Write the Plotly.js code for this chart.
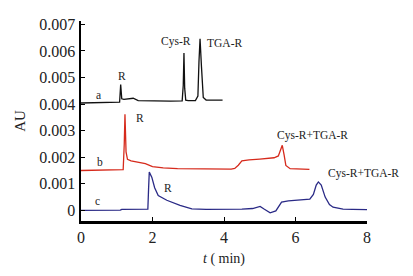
<!DOCTYPE html>
<html>
<head>
<meta charset="utf-8">
<script src="https://cdn.plot.ly/plotly-3.0.1.min.js"></script>
<style>html,body{margin:0;padding:0;background:#fff;}#chart{width:413px;height:276px;}</style>
</head>
<body>
<div id="chart"></div>
<script>
// Trace a (black), time in min, absorbance in 1e-3 AU
var timeA = [0, 0.5, 1.0, 1.08, 1.11, 1.14, 1.2, 1.35, 1.46, 1.6, 2.0, 2.5, 2.83, 2.86, 2.88, 2.9, 2.93, 3.0, 3.2, 3.27, 3.3, 3.33, 3.37, 3.42, 3.5, 3.96];
var auA   = [4.04, 4.05, 4.06, 4.07, 4.74, 4.2, 4.18, 4.19, 4.22, 4.13, 4.11, 4.11, 4.12, 4.7, 5.92, 4.6, 4.15, 4.13, 4.13, 4.3, 5.6, 6.46, 5.4, 4.25, 4.15, 4.15];
// Trace b (red)
var timeB = [0, 0.5, 1.0, 1.18, 1.21, 1.23, 1.26, 1.3, 1.4, 1.6, 1.8, 2.0, 2.3, 2.7, 3.5, 4.2, 4.3, 4.4, 4.5, 4.7, 5.0, 5.4, 5.52, 5.58, 5.63, 5.68, 5.73, 5.85, 6.1, 6.39];
var auB   = [1.5, 1.51, 1.52, 1.53, 2.5, 3.62, 2.2, 1.92, 1.86, 1.82, 1.76, 1.65, 1.6, 1.57, 1.55, 1.55, 1.58, 1.7, 1.86, 1.9, 1.93, 1.98, 2.05, 2.3, 2.45, 2.1, 1.69, 1.57, 1.55, 1.54];
// Trace c (blue)
var timeC = [0, 0.5, 1.0, 1.1, 1.14, 1.5, 1.87, 1.89, 1.91, 1.98, 2.06, 2.16, 2.4, 2.77, 3.1, 3.5, 4.0, 4.5, 4.8, 4.92, 5.01, 5.12, 5.29, 5.45, 5.61, 5.8, 6.1, 6.4, 6.5, 6.58, 6.64, 6.72, 6.83, 6.95, 7.05, 7.33, 7.6, 8.0];
var auC   = [0, 0, 0.01, 0.01, 0.04, 0.04, 0.05, 0.8, 1.44, 1.25, 0.85, 0.56, 0.38, 0.19, 0.06, 0.04, 0.04, 0.05, 0.07, 0.12, 0.15, 0.05, -0.09, -0.02, 0.31, 0.36, 0.38, 0.42, 0.6, 0.95, 1.07, 0.95, 0.5, 0.22, 0.12, 0.05, 0.04, 0.03];

var yTickVals = [0, 0.001, 0.002, 0.003, 0.004, 0.005, 0.006, 0.007];
var yTickText = ["0", "0.001", "0.002", "0.003", "0.004", "0.005", "0.006", "0.007"];
var xTickVals = [0, 2, 4, 6, 8];
var xTickText = ["0", "2", "4", "6", "8"];

// labels: [text, x (min), y (1e-3 AU)]
var labelText = ["a", "R", "Cys-R", "TGA-R", "b", "R", "Cys-R+TGA-R", "c", "R", "Cys-R+TGA-R"];
var labelX    = [0.48, 1.15, 2.66, 4.01, 0.53, 1.65, 6.48, 0.47, 2.43, 7.89];
var labelY    = [4.36, 5.04, 6.37, 6.29, 1.82, 3.46, 2.82, 0.34, 0.85, 1.4];

function scale(arr){ return arr.map(function(v){ return v / 1000; }); }

var serif = "Liberation Serif, Times New Roman, serif";

var traces = [
  {x: timeA, y: scale(auA), mode: "lines", line: {color: "#111111", width: 1.3}, hoverinfo: "none"},
  {x: timeB, y: scale(auB), mode: "lines", line: {color: "#d62a1c", width: 1.3}, hoverinfo: "none"},
  {x: timeC, y: scale(auC), mode: "lines", line: {color: "#2a2a86", width: 1.3}, hoverinfo: "none"}
];

var annotations = labelText.map(function(t, i){
  return {text: t, x: labelX[i], y: labelY[i] / 1000, xref: "x", yref: "y", showarrow: false,
          xanchor: "center", yanchor: "middle", font: {family: serif, size: 11.5, color: "#222"}};
});

var layout = {
  width: 413, height: 276,
  margin: {l: 81, r: 46, t: 21, b: 55},
  paper_bgcolor: "#fff", plot_bgcolor: "#fff",
  showlegend: false,
  font: {family: serif, color: "#222"},
  xaxis: {
    range: [0, 8], tickvals: xTickVals, ticktext: xTickText,
    showline: true, linecolor: "#000", linewidth: 2.5, mirror: false,
    ticks: "inside", ticklen: 4, tickwidth: 1, tickcolor: "#000",
    showgrid: false, zeroline: false,
    tickfont: {family: serif, size: 16, color: "#222"},
    title: {text: "<i>t</i> ( min)", font: {family: serif, size: 14, color: "#222"}, standoff: 9}
  },
  yaxis: {
    range: [-0.0004, 0.007127], tickvals: yTickVals, ticktext: yTickText,
    showline: true, linecolor: "#000", linewidth: 2.5, mirror: false,
    ticks: "inside", ticklen: 4, tickwidth: 1, tickcolor: "#000",
    showgrid: false, zeroline: false,
    tickfont: {family: serif, size: 16, color: "#222"},
    title: {text: "AU", font: {family: serif, size: 15, color: "#222"}, standoff: 10}
  },
  annotations: annotations
};

Plotly.newPlot("chart", traces, layout, {staticPlot: true, displayModeBar: false});
</script>
</body>
</html>
